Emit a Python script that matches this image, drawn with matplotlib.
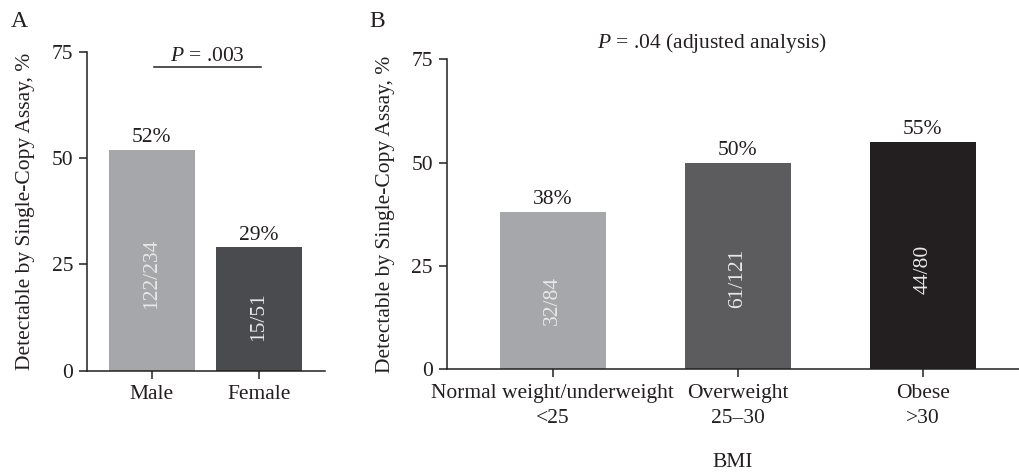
import matplotlib
matplotlib.use("Agg")
import matplotlib.pyplot as plt

# panel A: sex
sex_labels = ["Male", "Female"]
sex_pct = [52, 29]
sex_counts = ["122/234", "15/51"]
sex_colors = ["#a6a7aa", "#4a4b4e"]

# panel B: BMI
bmi_labels = ["Normal weight/underweight\n<25", "Overweight\n25\u201330", "Obese\n>30"]
bmi_pct = [38, 50, 55]
bmi_counts = ["32/84", "61/121", "44/80"]
bmi_colors = ["#a6a7aa", "#5c5c5e", "#231f20"]

yticks = [0, 25, 50, 75]
ink = "#231f20"

plt.rcParams["font.family"] = ["Liberation Serif", "DejaVu Serif"]
plt.rcParams["mathtext.fontset"] = "custom"
plt.rcParams["mathtext.rm"] = "Liberation Serif"
plt.rcParams["mathtext.it"] = "Liberation Serif:italic"
plt.rcParams["font.size"] = 15.5
plt.rcParams["text.color"] = ink
plt.rcParams["axes.labelcolor"] = ink
plt.rcParams["xtick.color"] = ink
plt.rcParams["ytick.color"] = ink

fig = plt.figure(figsize=(10.19, 4.75), dpi=100)
axA = fig.add_axes([0.0857, 0.2196, 0.2333, 0.6716])
axB = fig.add_axes([0.4384, 0.2225, 0.5616, 0.6527])


def style(ax):
    for s in ["top", "right"]:
        ax.spines[s].set_visible(False)
    for s in ["left", "bottom"]:
        ax.spines[s].set_linewidth(1.1)
        ax.spines[s].set_color(ink)
    ax.tick_params(length=5.5, width=1.1, direction="out")
    ax.tick_params(axis="y", pad=4.5)
    ax.tick_params(axis="x", pad=5)
    ax.set_ylim(0, 75)
    ax.set_yticks(yticks)


def bars(ax, labels, pct, counts, colors, width):
    x = list(range(len(labels)))
    ax.bar(x, pct, width=width, color=colors)
    for xi, v, c in zip(x, pct, counts):
        ax.annotate(f"{v}%", (xi, v), xytext=(0, 2), textcoords="offset points",
                    ha="center", va="bottom")
        ax.text(xi, v * 0.44, c, rotation=90, ha="center", va="center",
                color="#e8e8e8")
    ax.set_xticks(x)
    ax.set_xticklabels(labels, linespacing=1.45)


style(axA)
bars(axA, sex_labels, sex_pct, sex_counts, sex_colors, 0.8)
axA.set_xlim(-0.6, 1.615)
axA.set_ylabel("Detectable by Single-Copy Assay, %", labelpad=12)
axA.plot([0.02, 1.02], [71.5, 71.5], color=ink, lw=1.1, clip_on=False)
axA.text(0.515, 72.8, "$P$ = .003", ha="center", va="baseline", clip_on=False)

style(axB)
bars(axB, bmi_labels, bmi_pct, bmi_counts, bmi_colors, 0.572)
axB.set_xlim(-0.573, 2.52)
axB.set_ylabel("Detectable by Single-Copy Assay, %", labelpad=12)
axB.set_xlabel("BMI", labelpad=18)
axB.text(0.86, 77.7, "$P$ = .04 (adjusted analysis)", ha="center", va="baseline",
         clip_on=False)

fig.text(11 / 1019, 1 - 27 / 475, "A", ha="left", va="baseline", fontsize=17)
fig.text(369 / 1019, 1 - 27 / 475, "B", ha="left", va="baseline", fontsize=17)

fig.savefig("out.png", dpi=100)
